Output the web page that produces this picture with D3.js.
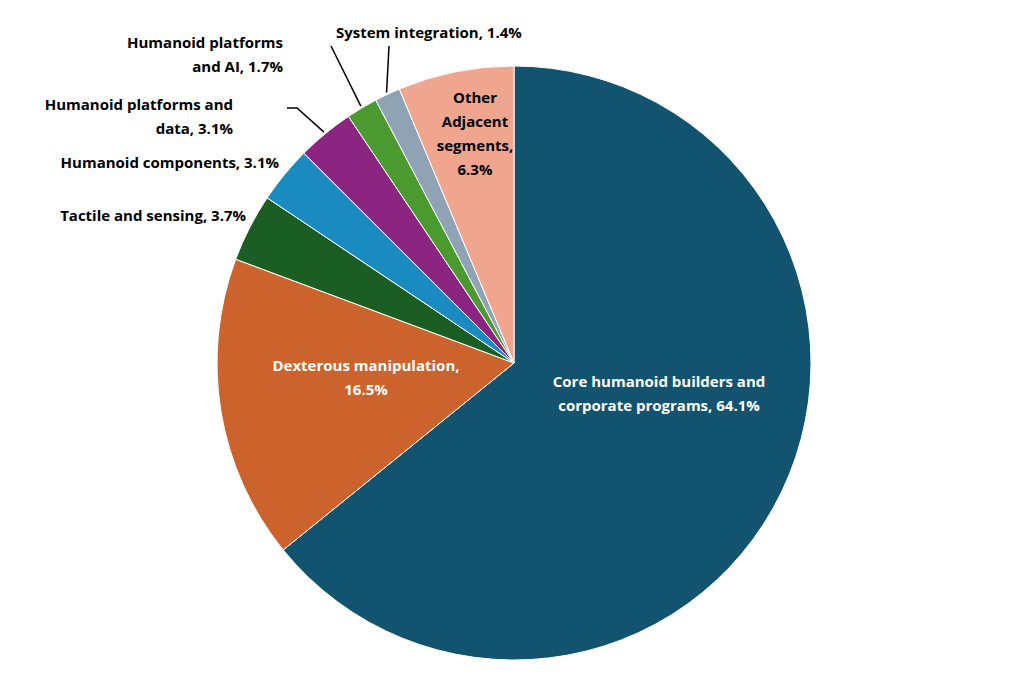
<!DOCTYPE html>
<html>
<head>
<meta charset="utf-8">
<script src="https://cdn.jsdelivr.net/npm/d3@7"></script>
<style>
  body { margin: 0; background: #fff; }
  text { font-family: "Open Sans", "Noto Sans", sans-serif; font-weight: bold; font-size: 15px; }
</style>
</head>
<body>
<svg id="chart" width="1024" height="683"></svg>
<script>
var categories = ["Core humanoid builders and corporate programs", "Dexterous manipulation",
  "Tactile and sensing", "Humanoid components", "Humanoid platforms and data",
  "Humanoid platforms and AI", "System integration", "Other Adjacent segments"];
var shares = [64.1, 16.5, 3.7, 3.1, 3.1, 1.7, 1.4, 6.3];
var colors = ["#12536f", "#cc622c", "#1a5e24", "#1a8bc0", "#8b2581", "#4a9a30", "#8fa3b4", "#f0a58e"];

// label layout: lines, position, anchor, colour, optional leader line elbow
var labels = [
  {lines: ["Core humanoid builders and", "corporate programs, 64.1%"], x: 659, y: 387, a: "middle", c: "#fff"},
  {lines: ["Dexterous manipulation,", "16.5%"], x: 366, y: 371, a: "middle", c: "#fff"},
  {lines: ["Tactile and sensing, 3.7%"], x: 246, y: 221, a: "end", c: "#000"},
  {lines: ["Humanoid components, 3.1%"], x: 279, y: 168, a: "end", c: "#000"},
  {lines: ["Humanoid platforms and", "data, 3.1%"], x: 233, y: 110, a: "end", c: "#000", lead: [[287, 108], [297, 108]]},
  {lines: ["Humanoid platforms", "and AI, 1.7%"], x: 283, y: 48, a: "end", c: "#000", lead: [[331, 46]]},
  {lines: ["System integration, 1.4%"], x: 336, y: 38, a: "start", c: "#000", lead: [[389, 46]]},
  {lines: ["Other", "Adjacent", "segments,", "6.3%"], x: 475, y: 103, a: "middle", c: "#000"}
];

var svg = d3.select("#chart");
var cx = 514, cy = 363, r = 297;
var g = svg.append("g").attr("transform", "translate(" + cx + "," + cy + ")");

var pie = d3.pie().sort(null).value(function(d) { return d; });
var arcs = pie(shares);
var arc = d3.arc().innerRadius(0).outerRadius(r);

g.selectAll("path").data(arcs).enter().append("path")
  .attr("d", arc)
  .attr("fill", function(d, i) { return colors[i]; })
  .attr("stroke", "#fff").attr("stroke-width", 1);

labels.forEach(function(l, i) {
  if (l.lead) {
    var mid = (arcs[i].startAngle + arcs[i].endAngle) / 2;
    var end = [cx + Math.sin(mid) * (r + 2), cy - Math.cos(mid) * (r + 2)];
    var pts = l.lead.concat([end]);
    svg.append("path")
      .attr("d", d3.line()(pts))
      .attr("fill", "none").attr("stroke", "#000").attr("stroke-width", 1.5);
  }
  var t = svg.append("text").attr("x", l.x).attr("y", l.y)
    .attr("text-anchor", l.a).attr("fill", l.c);
  l.lines.forEach(function(s, k) {
    t.append("tspan").attr("x", l.x).attr("dy", k === 0 ? 0 : 24).text(s);
  });
});
</script>
</body>
</html>
